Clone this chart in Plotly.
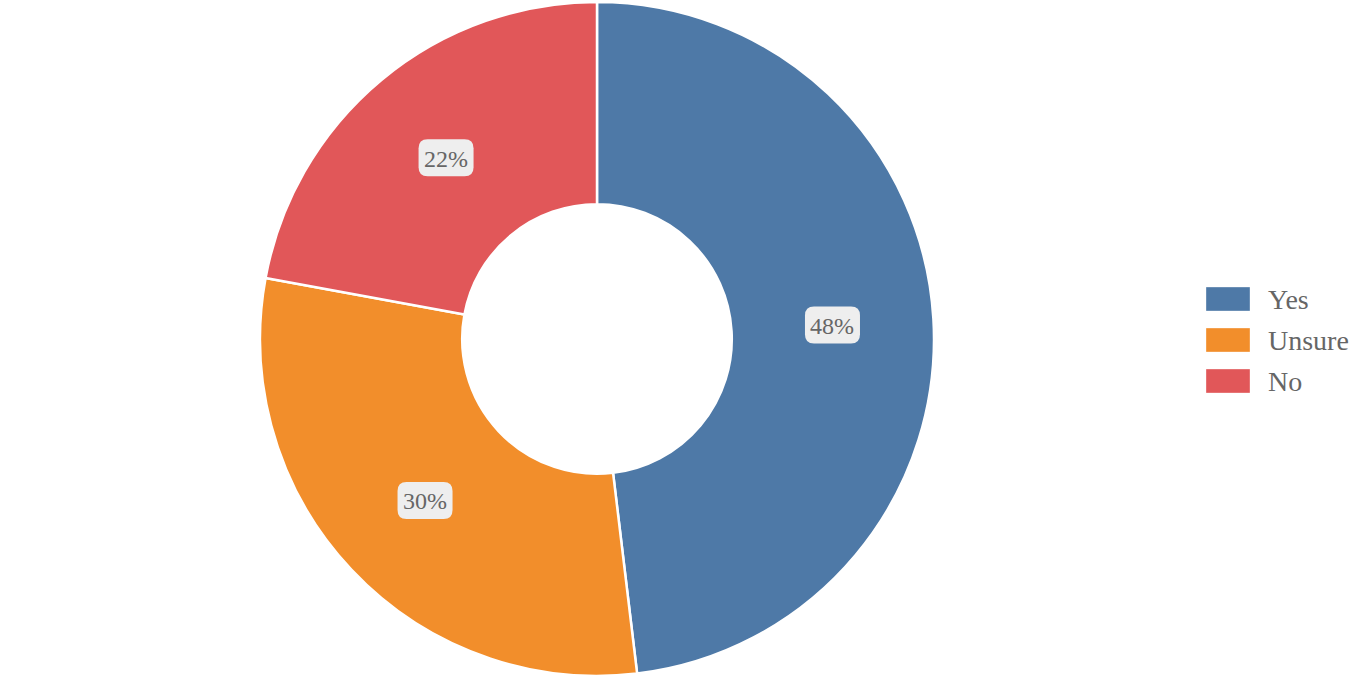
import math
import plotly.graph_objects as go

categories = ["Yes", "Unsure", "No"]
values = [48.1, 29.8, 22.1]
colors = ["#4e79a7", "#f28e2b", "#e15759"]

W, H = 1362, 680
cx_px, cy_px = 597, 339
R_outer = 337
hole = 0.40
font_family = "Liberation Serif, Times New Roman, serif"
text_color = "#666666"

fig = go.Figure()
fig.add_trace(go.Pie(
    labels=categories, values=values, sort=False, direction="clockwise",
    rotation=0, hole=hole, textinfo="none", hoverinfo="label+percent",
    marker=dict(colors=colors, line=dict(color="#ffffff", width=2.5)),
    domain=dict(x=[(cx_px - 345) / W, (cx_px + 345) / W],
                y=[1 - (cy_px + R_outer) / H, 1 - (cy_px - R_outer) / H]),
    showlegend=False,
))

def px2paper(x, y):
    return x / W, 1 - y / H

def rounded_rect(x0, y0, x1, y1, r):
    def P(x, y):
        a, b = px2paper(x, y)
        return f"{a:.6f},{b:.6f}"
    return (f"M {P(x0 + r, y0)} L {P(x1 - r, y0)} Q {P(x1, y0)} {P(x1, y0 + r)} "
            f"L {P(x1, y1 - r)} Q {P(x1, y1)} {P(x1 - r, y1)} "
            f"L {P(x0 + r, y1)} Q {P(x0, y1)} {P(x0, y1 - r)} "
            f"L {P(x0, y0 + r)} Q {P(x0, y0)} {P(x0 + r, y0)} Z")

total = sum(values)
r_lab = R_outer * (1 + hole) / 2
cum = 0.0
shapes = []
annotations = []
for cat, v in zip(categories, values):
    mid = (cum + v / 2) / total * 2 * math.pi
    cum += v
    lx = cx_px + r_lab * math.sin(mid)
    ly = cy_px - r_lab * math.cos(mid)
    bw, bh = 55, 37
    shapes.append(dict(type="path", xref="paper", yref="paper",
                       path=rounded_rect(lx - bw / 2, ly - bh / 2, lx + bw / 2, ly + bh / 2, 9),
                       fillcolor="#eeeeee", line=dict(width=0), layer="above"))
    ax, ay = px2paper(lx, ly + 1)
    annotations.append(dict(x=ax, y=ay, xref="paper", yref="paper",
                            text=f"{round(v / total * 100)}%", showarrow=False,
                            font=dict(family=font_family, size=24, color=text_color),
                            xanchor="center", yanchor="middle"))

# Legend built from categories
leg_x0, leg_y0, leg_dy = 1206, 299, 41
for i, (cat, col) in enumerate(zip(categories, colors)):
    yc = leg_y0 + i * leg_dy
    x0, y0 = px2paper(leg_x0, yc - 12)
    x1, y1 = px2paper(leg_x0 + 44, yc + 12)
    shapes.append(dict(type="rect", xref="paper", yref="paper", x0=x0, y0=y0, x1=x1, y1=y1,
                       fillcolor=col, line=dict(color="rgba(255,255,255,0.35)", width=1), layer="above"))
    tx, ty = px2paper(1266, yc)
    annotations.append(dict(x=tx, y=ty, xref="paper", yref="paper", text=cat, showarrow=False,
                            font=dict(family=font_family, size=28, color=text_color),
                            xanchor="left", yanchor="middle"))

fig.update_layout(
    width=W, height=H, margin=dict(l=0, r=0, t=0, b=0),
    paper_bgcolor="white", plot_bgcolor="white",
    shapes=shapes, annotations=annotations, showlegend=False,
)
fig.write_html("out.html", config={"displayModeBar": False},
               post_script="document.body.style.margin='0';document.body.style.overflow='hidden';")
